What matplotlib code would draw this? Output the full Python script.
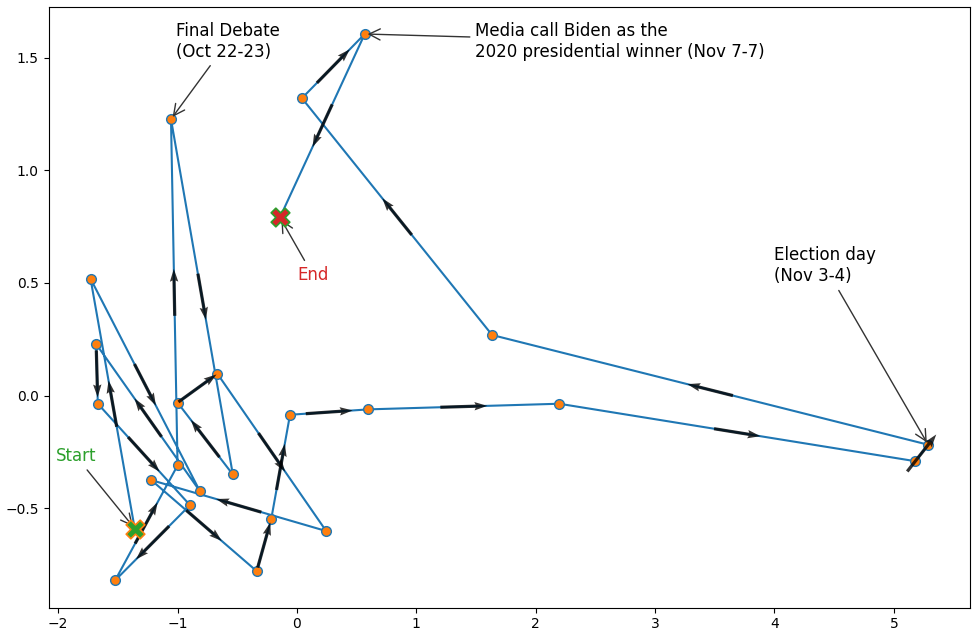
import matplotlib
matplotlib.use('Agg')
import matplotlib.pyplot as plt
import numpy as np

# embedding coordinates of each day, in time order (start -> end)
xs = [-1.359, -1.729, -0.813, -1.682, -1.668, -0.896, -1.523, -1.000, -1.055,
      -0.537, -1.000, -0.666, 0.245, -1.220, -0.337, -0.215, -0.058, 0.599,
      2.197, 5.180, 5.288, 1.635, 0.042, 0.568, -0.142]
ys = [-0.590, 0.519, -0.424, 0.229, -0.036, -0.486, -0.820, -0.310, 1.227,
      -0.350, -0.031, 0.097, -0.601, -0.375, -0.779, -0.547, -0.085, -0.061,
      -0.036, -0.291, -0.218, 0.269, 1.320, 1.605, 0.791]

event_idx = [8, 20, 23]
event_text = ["Final Debate\n(Oct 22-23)",
              "Election day\n(Nov 3-4)",
              "Media call Biden as the\n2020 presidential winner (Nov 7-7)"]
event_textpos = [(-1.011, 1.659), (3.993, 0.662), (1.495, 1.659)]

x = np.array(xs)
y = np.array(ys)

fig = plt.figure(figsize=(9.73, 6.3), dpi=100)
ax = fig.add_axes([0.050, 0.0354, 0.947, 0.954])

ax.plot(x, y, color='C0', marker='o', mfc='C1', mec='C0', ms=7, lw=1.5, zorder=2)

# direction arrows at the middle of each segment
xm = (x[:-1] + x[1:]) / 2
ym = (y[:-1] + y[1:]) / 2
dx = x[1:] - x[:-1]
dy = y[1:] - y[:-1]
n = np.hypot(dx, dy)
ax.quiver(xm, ym, dx / n, dy / n, pivot='mid', angles='xy',
          scale_units='inches', scale=1 / 0.47, width=0.0035,
          headwidth=2.6, headlength=4, headaxislength=3.6,
          color='k', alpha=0.8, zorder=3)

ax.scatter(x[0], y[0], marker='X', s=180, c='C2', edgecolors='C1', lw=1.2, zorder=4)
ax.scatter(x[-1], y[-1], marker='X', s=180, c='C3', edgecolors='C2', lw=1.2, zorder=4)

arrow = dict(arrowstyle='->', color='0.2', lw=1, mutation_scale=20)
ax.annotate("Start", xy=(x[0], y[0]), xytext=(-2.022, -0.228), fontsize=12,
            color='C2', va='top', arrowprops=arrow)
ax.annotate("End", xy=(x[-1], y[-1]), xytext=(0.0, 0.577), fontsize=12,
            color='C3', va='top', arrowprops=arrow)
for i, t, p in zip(event_idx, event_text, event_textpos):
    ax.annotate(t, xy=(x[i], y[i]), xytext=p, fontsize=12, va='top',
                arrowprops=arrow)

plt.savefig("out.png", dpi=100)
